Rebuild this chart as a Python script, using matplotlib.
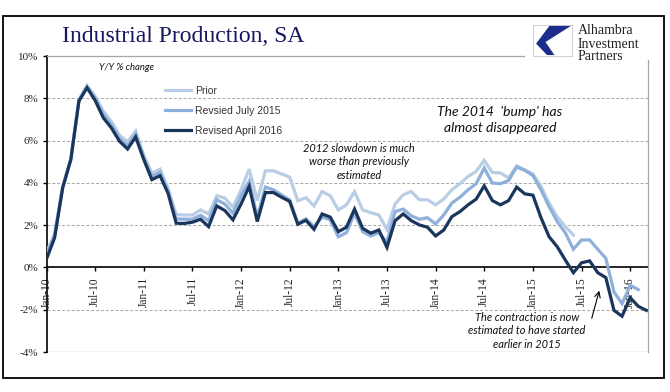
import matplotlib.pyplot as plt
from matplotlib.patches import Rectangle, Polygon

# --- datos: variacion interanual (%) de la produccion industrial, mensual desde Jan-10 ---
prior = [
    0.7, 1.6, 3.85, 5.15, 7.95, 8.6, 8.1, 7.4, 6.9, 6.25, 5.95, 6.45,
    5.3, 4.45, 4.65, 3.75, 2.5, 2.48, 2.48, 2.72, 2.53, 3.39, 3.28, 2.85,
    3.67, 4.65, 3.16, 4.57, 4.57, 4.42, 4.27, 3.15, 3.3, 2.91, 3.59, 3.39,
    2.72, 2.96, 3.59, 2.72, 2.59, 2.48, 1.8, 3.0, 3.43, 3.59, 3.2, 3.2,
    2.96, 3.23, 3.67, 3.96, 4.3, 4.54, 5.06, 4.49, 4.47, 4.23, 4.81, 4.62,
    4.42, 3.83, 3.04, 2.4, 1.93, 1.53,
]
rev_jul15 = [
    0.6, 1.5, 3.8, 5.1, 7.9, 8.55, 8.0, 7.25, 6.75, 6.1, 5.75, 6.3,
    5.2, 4.3, 4.5, 3.6, 2.3, 2.28, 2.28, 2.47, 2.21, 3.2, 3.0, 2.56,
    3.39, 4.07, 2.38, 3.8, 3.67, 3.43, 3.2, 2.09, 2.3, 1.93, 2.38, 2.25,
    1.45, 1.64, 2.56, 1.69, 1.49, 1.64, 1.2, 2.64, 2.76, 2.44, 2.28, 2.35,
    2.06, 2.48, 3.04, 3.32, 3.67, 3.96, 4.7, 3.99, 3.96, 4.11, 4.75, 4.59,
    4.35, 3.67, 2.88, 2.17, 1.64, 0.86, 1.3, 1.3, 0.86, 0.43, -1.16, -1.71,
    -0.84, -1.05,
]
rev_apr16 = [
    0.4, 1.4, 3.77, 5.1, 7.87, 8.5, 7.9, 7.08, 6.6, 5.97, 5.6, 6.17,
    5.1, 4.15, 4.34, 3.5, 2.09, 2.08, 2.14, 2.28, 1.93, 2.91, 2.69, 2.25,
    3.0, 3.83, 2.17, 3.54, 3.54, 3.32, 3.12, 2.04, 2.23, 1.8, 2.53, 2.38,
    1.69, 1.9, 2.76, 1.85, 1.62, 1.77, 0.95, 2.21, 2.53, 2.21, 2.01, 1.9,
    1.49, 1.77, 2.4, 2.64, 2.96, 3.23, 3.86, 3.16, 2.96, 3.16, 3.8, 3.48,
    3.42, 2.35, 1.45, 0.98, 0.35, -0.25, 0.22, 0.31, -0.25, -0.48, -2.03, -2.31,
    -1.43, -1.84, -2.03,
]
series_names = ["Prior", "Revsied July 2015", "Revised April 2016"]
series_colors = ["#B9CDE5", "#8EB0DA", "#1B365D"]

tick_months = list(range(0, 73, 6))
tick_labels = ["Jan-10", "Jul-10", "Jan-11", "Jul-11", "Jan-12", "Jul-12", "Jan-13",
               "Jul-13", "Jan-14", "Jul-14", "Jan-15", "Jul-15", "Jan-16"]
y_ticks = [-4, -2, 0, 2, 4, 6, 8, 10]
y_labels = ["-4%", "-2%", "0%", "2%", "4%", "6%", "8%", "10%"]

W, H = 670, 392
fig = plt.figure(figsize=(W / 100, H / 100), dpi=100)

def fx(px):
    return px / W

def fy(py):
    return 1 - py / H

ax = fig.add_axes([fx(46.5), fy(352), fx(648) - fx(46.5), fy(56) - fy(352)])

lines = []
for datos, nombre, color in zip([prior, rev_jul15, rev_apr16], series_names, series_colors):
    l, = ax.plot(range(len(datos)), datos, color=color, lw=2.3, label=nombre,
                 solid_joinstyle="miter", zorder=3)
    lines.append(l)

ax.set_xlim(0, 74.2)
ax.set_ylim(-4, 10)

# rejilla discontinua
for v in [-2, 2, 4, 6, 8]:
    ax.axhline(v, color="#A6A6A6", lw=0.7, ls=(0, (3, 2)), zorder=1)
ax.axhline(-4, color="#A6A6A6", lw=0.9, zorder=1)

ax.spines["left"].set_color("black")
ax.spines["left"].set_linewidth(1.2)
ax.spines["bottom"].set_position(("data", 0))
ax.spines["bottom"].set_color("black")
ax.spines["bottom"].set_linewidth(1.2)
ax.spines["bottom"].set_zorder(2)
ax.spines["top"].set_color("#A6A6A6")
ax.spines["right"].set_color("#A6A6A6")
ax.spines["top"].set_linewidth(0.9)
ax.spines["right"].set_linewidth(0.9)

serif = ["Liberation Serif", "DejaVu Serif"]
ax.set_yticks(y_ticks)
ax.set_yticklabels(y_labels, family=serif, fontsize=8, color="#222222")
ax.set_xticks(tick_months)
ax.set_xticklabels(tick_labels, family=serif, fontsize=8.3, rotation=90, color="#222222")
ax.tick_params(axis="both", direction="out", length=3, width=1, color="black")
ax.tick_params(axis="x", pad=4)
ax.tick_params(axis="y", pad=3)

# leyenda
leg = fig.legend(handles=lines, loc="upper left", bbox_to_anchor=(fx(165), fy(86)),
                 frameon=False, borderpad=0, borderaxespad=0, handlelength=2.5,
                 handletextpad=0.4, labelspacing=0.95,
                 prop={"family": ["Liberation Sans", "DejaVu Sans"], "size": 7.5})
for t in leg.get_texts():
    t.set_color("#333333")

# textos
it = {"family": ["Lato", "DejaVu Sans"], "style": "italic", "color": "#111111"}
fig.text(fx(127), fy(67), "Y/Y % change", ha="center", va="center", fontsize=6.8, **it)
fig.text(fx(500), fy(120), "The 2014  'bump' has\nalmost disappeared", ha="center",
         va="center", fontsize=10, linespacing=1.3, **it)
fig.text(fx(359), fy(162), "2012 slowdown is much\nworse than previously\nestimated",
         ha="center", va="center", fontsize=7.9, linespacing=1.3, **it)
fig.text(fx(527), fy(331), "The contraction is now\nestimated to have started\nearlier in 2015",
         ha="center", va="center", fontsize=7.9, linespacing=1.3, **it)
ax.annotate("", xy=(fx(600), fy(288)), xycoords="figure fraction",
            xytext=(fx(591), fy(321)), textcoords="figure fraction",
            arrowprops=dict(arrowstyle="->", color="black", lw=0.8))

# titulo
fig.text(fx(62), fy(37), "Industrial Production, SA", ha="left", va="center",
         family=serif, fontsize=17, color="#17175E")

# logo
fig.patches.append(Rectangle((fx(525), fy(60)), fx(660) - fx(525), fy(20) - fy(60),
                             transform=fig.transFigure, facecolor="white",
                             edgecolor="none", zorder=5))
bx0, bx1, by0, by1 = 533, 572, 56, 25
fig.patches.append(Rectangle((fx(bx0), fy(by0)), fx(bx1) - fx(bx0), fy(by1) - fy(by0),
                             transform=fig.transFigure, facecolor="white",
                             edgecolor="#C8C8C8", lw=0.6, zorder=6))
pts = [(0.42, 0.97), (0.97, 0.97), (0.32, 0.45), (0.55, 0.03), (0.36, 0.03), (0.08, 0.40)]
pts_fig = [(fx(bx0 + p[0] * (bx1 - bx0)), fy(by0 - p[1] * (by0 - by1))) for p in pts]
fig.patches.append(Polygon(pts_fig, closed=True, transform=fig.transFigure,
                           facecolor="#1C2D8C", edgecolor="none", zorder=7))
for txt, yy in zip(["Alhambra", "Investment", "Partners"], [31, 44.5, 57]):
    fig.text(fx(578), fy(yy), txt, ha="left", va="center", family=serif,
             fontsize=10, color="#222222", zorder=8)

# marco exterior
fig.patches.append(Rectangle((fx(3), fy(378)), fx(664) - fx(3), fy(16) - fy(378),
                             transform=fig.transFigure, facecolor="none",
                             edgecolor="black", lw=1.3, zorder=9))

fig.savefig("out.png", dpi=100)
